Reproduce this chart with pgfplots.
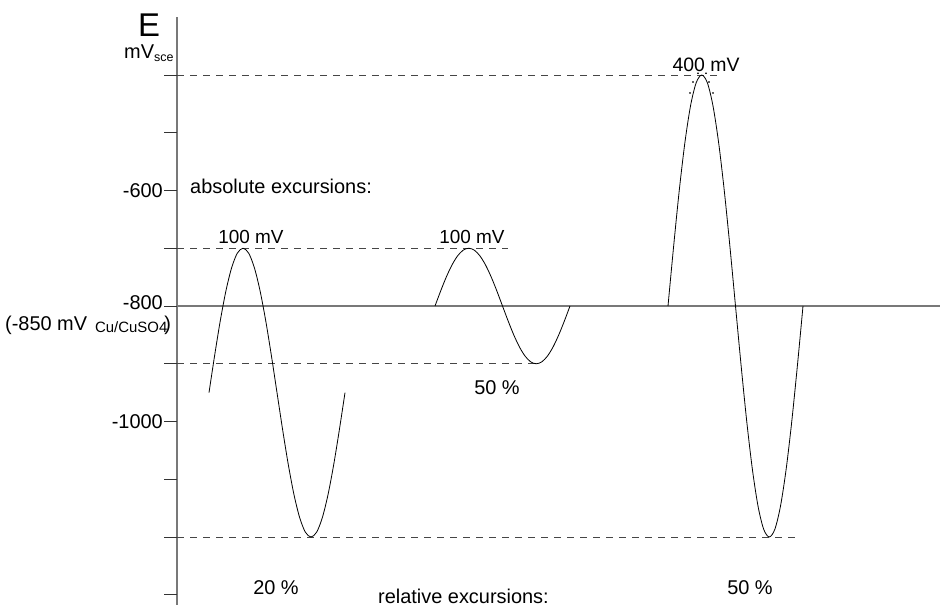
\documentclass[border=0pt]{standalone}
\usepackage{fontspec}
\setmainfont{Liberation Sans}
\usepackage{pgfplots}
\pgfplotsset{compat=1.18}
\definecolor{axgray}{RGB}{120,120,120}
\definecolor{dashgray}{RGB}{70,70,70}
\newcommand{\lbl}{\fontsize{20}{24}\selectfont}
\begin{document}
\begin{tikzpicture}
\begin{axis}[
  width=940bp, height=607bp, scale only axis,
  xmin=0, xmax=940, ymin=-1321.21, ymax=-270.13,
  hide axis, clip=false, unbounded coords=jump,
]
% y axis line and ticks
\addplot[axgray, line width=1.1bp] coordinates {(177,-300) (177,-1317.7)};
\addplot[black!80, line width=0.9bp] coordinates {
 (164,-400) (177,-400) (nan,nan)
 (164,-500) (177,-500) (nan,nan)
 (164,-600) (177,-600) (nan,nan)
 (164,-700) (177,-700) (nan,nan)
 (164,-800) (177,-800) (nan,nan)
 (164,-900) (177,-900) (nan,nan)
 (164,-1000) (177,-1000) (nan,nan)
 (164,-1100) (177,-1100) (nan,nan)
 (164,-1200) (177,-1200) (nan,nan)
 (164,-1300) (177,-1300)};
% -800 reference line
\addplot[axgray, line width=1.3bp] coordinates {(177,-800) (940,-800)};
% dashed levels
\addplot[dashgray, line width=0.8bp, dash pattern=on 7bp off 6bp] coordinates {(177,-400) (722,-400)};
\addplot[dashgray, line width=0.8bp, dash pattern=on 7bp off 6bp] coordinates {(177,-700) (508,-700)};
\addplot[dashgray, line width=0.8bp, dash pattern=on 7bp off 6bp] coordinates {(177,-900) (540,-900)};
\addplot[dashgray, line width=0.8bp, dash pattern=on 7bp off 6bp] coordinates {(177,-1200) (800,-1200)};
% curve 1 (20 %)
\addplot[black, line width=0.8bp, smooth] coordinates {
 (209,-950) (214.67,-885.3) (220.33,-825) (226,-773.2) (231.67,-733.5) (237.33,-708.5)
 (243,-700) (248.67,-708.5) (254.33,-733.5) (260,-773.2) (265.67,-825) (271.33,-885.3)
 (277,-950) (282.67,-1014.7) (288.33,-1075) (294,-1126.8) (299.67,-1166.5) (305.33,-1191.5)
 (311,-1200) (316.67,-1191.5) (322.33,-1166.5) (328,-1126.8) (333.67,-1075) (339.33,-1014.7)
 (345,-950)};
% curve 2 (100 mV)
\addplot[black, line width=0.8bp, smooth] coordinates {
 (435,-800) (440.63,-774.1) (446.25,-750) (451.88,-729.3) (457.5,-713.4) (463.13,-703.4)
 (468.75,-700) (474.38,-703.4) (480,-713.4) (485.63,-729.3) (491.25,-750) (496.88,-774.1)
 (502.5,-800) (508.13,-825.9) (513.75,-850) (519.38,-870.7) (525,-886.6) (530.63,-896.6)
 (536.25,-900) (541.88,-896.6) (547.5,-886.6) (553.13,-870.7) (558.75,-850) (564.38,-825.9)
 (570,-800)};
% curve 3 (400 mV)
\addplot[black, line width=0.8bp, smooth] coordinates {
 (668,-800) (673.63,-696.5) (679.25,-600) (684.88,-517.2) (690.5,-453.6) (696.13,-413.6)
 (701.75,-400) (707.38,-413.6) (713,-453.6) (718.63,-517.2) (724.25,-600) (729.88,-696.5)
 (735.5,-800) (741.13,-903.5) (746.75,-1000) (752.38,-1082.8) (758,-1146.4) (763.63,-1186.4)
 (769.25,-1200) (774.88,-1186.4) (780.5,-1146.4) (786.13,-1082.8) (791.75,-1000) (797.38,-903.5)
 (803,-800)};
% dotted marks around the 400 mV peak
\addplot[only marks, mark=*, mark size=0.6bp, black] coordinates {
 (690,-431) (693,-412) (698,-397) (706,-397) (709,-412) (713,-431)};
% labels
\node[anchor=base west, inner sep=0pt] at (axis cs:138,-332.5) {\fontsize{33}{36}\selectfont E};
\node[anchor=base west, inner sep=0pt] at (axis cs:124,-370.6) {\lbl mV\raisebox{-3bp}{\fontsize{12.5}{14}\selectfont sce}};
\node[anchor=base east, inner sep=0pt] at (axis cs:163,-611.3) {\lbl -600};
\node[anchor=base east, inner sep=0pt] at (axis cs:163,-806.9) {\lbl -800};
\node[anchor=base west, inner sep=0pt] at (axis cs:5,-841.6) {\lbl (-850 mV\hspace{8bp}\raisebox{-2bp}{\fontsize{15}{17}\selectfont Cu/CuSO4}\hspace{-3bp})};
\node[anchor=base east, inner sep=0pt] at (axis cs:163,-1011.3) {\lbl -1000};
\node[anchor=base west, inner sep=0pt] at (axis cs:190,-606) {\lbl absolute excursions:};
\node[anchor=base, inner sep=0pt] at (axis cs:251,-692.6) {\fontsize{19}{22}\selectfont 100 mV};
\node[anchor=base, inner sep=0pt] at (axis cs:472,-692.6) {\fontsize{19}{22}\selectfont 100 mV};
\node[anchor=base, inner sep=0pt] at (axis cs:706,-394.8) {\fontsize{19.5}{22}\selectfont 400 mV};
\node[anchor=base, inner sep=0pt] at (axis cs:497,-952.4) {\lbl 50 \%};
\node[anchor=base, inner sep=0pt] at (axis cs:276,-1300.4) {\lbl 20 \%};
\node[anchor=base, inner sep=0pt] at (axis cs:750,-1300.4) {\lbl 50 \%};
\node[anchor=base west, inner sep=0pt] at (axis cs:378,-1314.5) {\lbl relative excursions:};
\end{axis}
\pgfresetboundingbox
\path (current axis.south west) rectangle (current axis.north east);
\end{tikzpicture}
\end{document}
